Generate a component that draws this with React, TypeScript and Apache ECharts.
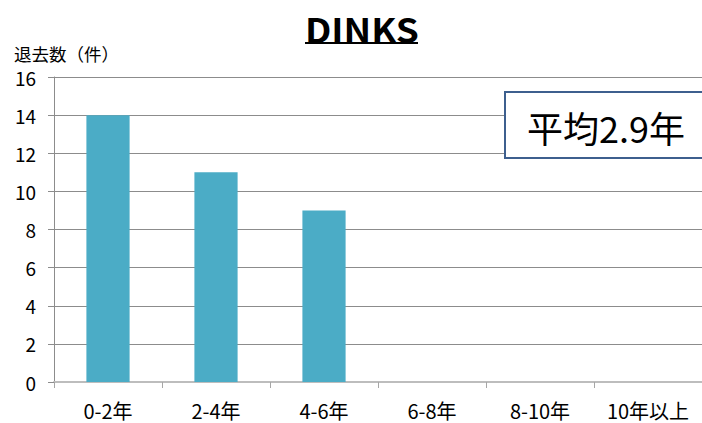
import React, { useEffect, useRef } from "react";
import * as echarts from "echarts";

const categories = ["0-2年", "2-4年", "4-6年", "6-8年", "8-10年", "10年以上"];
const counts = [14, 11, 9, 0, 0, 0];
const yTicks = { min: 0, max: 16, interval: 2 };
const titleText = "DINKS";
const yAxisTitle = "退去数（件）";
const averageText = "平均2.9年";

const FONT = "'Noto Sans CJK JP', 'Noto Sans', sans-serif";

export default function App() {
  const ref = useRef<HTMLDivElement>(null);

  useEffect(() => {
    if (!ref.current) return;
    const chart = echarts.init(ref.current, undefined, { renderer: "svg" });
    chart.setOption({
      animation: false,
      backgroundColor: "#ffffff",
      textStyle: { fontFamily: FONT },
      grid: { left: 54, right: -3, top: 77, bottom: 41, containLabel: false },
      xAxis: {
        type: "category",
        data: categories,
        axisLine: { show: true, lineStyle: { color: "#bdbdbd", width: 2 } },
        axisTick: { show: true, length: 6, lineStyle: { color: "#a6a6a6" } },
        axisLabel: { color: "#000", fontSize: 20, margin: 18, fontFamily: FONT },
        splitLine: { show: false },
      },
      yAxis: {
        type: "value",
        min: yTicks.min,
        max: yTicks.max,
        interval: yTicks.interval,
        axisLine: { show: true, lineStyle: { color: "#8c8c8c", width: 1 } },
        axisTick: { show: true, length: 6, lineStyle: { color: "#8c8c8c" } },
        axisLabel: { color: "#000", fontSize: 19, margin: 18, fontFamily: FONT },
        splitLine: { show: true, lineStyle: { color: "#8c8c8c", width: 1 } },
      },
      series: [
        {
          type: "bar",
          data: counts,
          barWidth: "40%",
          itemStyle: { color: "#4BACC6" },
        },
      ],
      graphic: [
        {
          type: "text",
          x: 305,
          y: 28,
          scaleX: 1.12,
          style: {
            text: titleText,
            fontSize: 33,
            fontWeight: "bold",
            fontFamily: FONT,
            fill: "#000",
            align: "left",
            verticalAlign: "middle",
          },
        },
        {
          type: "line",
          shape: { x1: 305, y1: 43, x2: 418, y2: 43 },
          style: { stroke: "#000", lineWidth: 2 },
        },
        {
          type: "text",
          x: 14,
          y: 53,
          style: {
            text: yAxisTitle,
            fontSize: 17.5,
            fontFamily: FONT,
            fill: "#000",
            align: "left",
            verticalAlign: "middle",
          },
        },
        {
          type: "rect",
          shape: { x: 505, y: 92, width: 210, height: 66 },
          style: { fill: "#fff", stroke: "#3d5f8e", lineWidth: 2 },
          z: 100,
        },
        {
          type: "text",
          x: 606,
          y: 127,
          style: {
            text: averageText,
            fontSize: 36,
            fontFamily: FONT,
            fill: "#000",
            align: "center",
            verticalAlign: "middle",
          },
          z: 101,
        },
      ],
    });
    return () => chart.dispose();
  }, []);

  return (
    <div
      ref={ref}
      style={{ position: "fixed", left: 0, top: 0, width: 702, height: 423 }}
    />
  );
}
